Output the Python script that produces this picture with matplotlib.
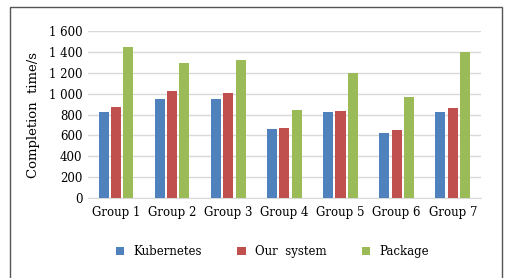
import matplotlib.pyplot as plt
import matplotlib.patches as mpatches
from matplotlib.ticker import FuncFormatter
import numpy as np

groups = ['Group 1', 'Group 2', 'Group 3', 'Group 4', 'Group 5', 'Group 6', 'Group 7']
kubernetes = [820, 950, 950, 660, 820, 620, 820]
our_system = [870, 1030, 1010, 670, 830, 650, 860]
package = [1450, 1290, 1320, 840, 1200, 970, 1400]

plt.rcParams['font.family'] = ['DejaVu Serif']

fig = plt.figure(figsize=(5.11, 2.78), dpi=100)
ax = fig.add_axes([0.172, 0.288, 0.769, 0.6])

x = np.arange(len(groups))
w = 0.18
ax.bar(x - 0.22, kubernetes, w, color='#4F81BD', label='Kubernetes', zorder=3)
ax.bar(x, our_system, w, color='#C0504D', label='Our  system', zorder=3)
ax.bar(x + 0.22, package, w, color='#9BBB59', label='Package', zorder=3)

ax.set_xlim(-0.5, 6.5)
ax.set_ylim(0, 1600)
ax.set_yticks(range(0, 1601, 200))
ax.yaxis.set_major_formatter(FuncFormatter(lambda v, p: f'{int(v):,}'.replace(',', ' ')))
ax.set_xticks(x)
ax.set_xticklabels(groups)
ax.tick_params(axis='both', length=0, labelsize=8.5, colors='black')
ax.tick_params(axis='x', pad=6)
ax.tick_params(axis='y', pad=4)
ax.grid(axis='y', color='#d9d9d9', linewidth=1, zorder=0)
for s in ['top', 'right', 'left']:
    ax.spines[s].set_visible(False)
ax.spines['bottom'].set_color('#d9d9d9')

ax.set_ylabel('Completion  time/s', fontsize=9.5, labelpad=6)

ax.legend(loc='upper center', bbox_to_anchor=(0.47, -0.22), ncol=3, frameon=False,
          fontsize=8.5, handlelength=0.7, handleheight=0.7, columnspacing=3.0)

fig.patches.append(mpatches.Rectangle((10 / 511, -0.05), 492 / 511, 1 - 7 / 278 + 0.05,
                                      transform=fig.transFigure, fill=False,
                                      edgecolor='#555555', linewidth=1))

fig.savefig('out.png', dpi=100)
